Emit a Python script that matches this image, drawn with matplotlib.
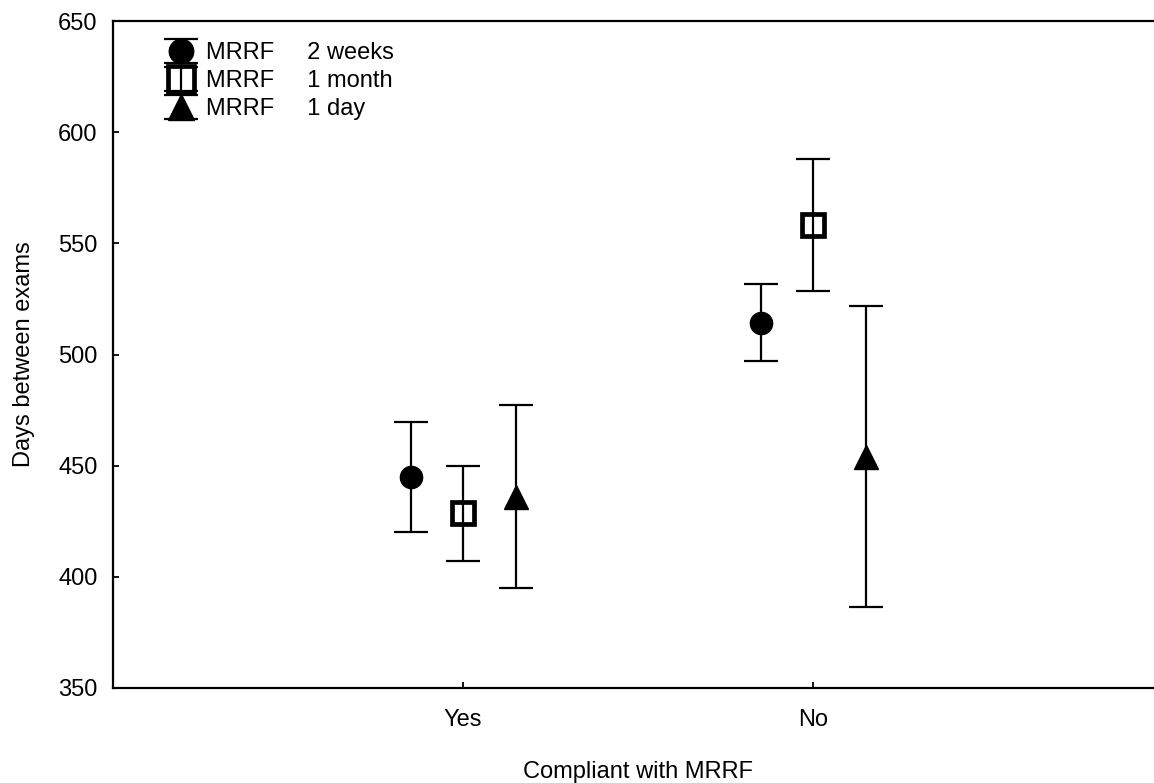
import numpy as np
import matplotlib.pyplot as plt

plt.rcParams['font.family'] = ['Liberation Sans', 'DejaVu Sans']

groups = ['Yes', 'No']
series = ['2 weeks', '1 month', '1 day']
means = {
    '2 weeks': [445.0, 514.3],
    '1 month': [428.5, 558.2],
    '1 day': [436.0, 454.0],
}
errors = {
    '2 weeks': [24.7, 17.2],
    '1 month': [21.4, 29.7],
    '1 day': [41.2, 67.6],
}
offsets = {'2 weeks': -0.15, '1 month': 0.0, '1 day': 0.15}
styles = {
    '2 weeks': dict(marker='o', ms=16, mfc='black', mec='black'),
    '1 month': dict(marker='s', ms=16.5, mfc='none', mec='black', mew=3.4),
    '1 day': dict(marker='^', ms=17, mfc='black', mec='black'),
}

fig = plt.figure(figsize=(11.54, 7.83), dpi=100)
ax = fig.add_axes([113 / 1154, 95 / 783, 1050 / 1154, 667 / 783])

x = np.arange(1, len(groups) + 1)
for s in series:
    eb = ax.errorbar(x + offsets[s], means[s], yerr=errors[s], ls='none',
                     color='black', elinewidth=1.6, capsize=12.5, capthick=1.6,
                     label='MRRF     ' + s, **styles[s])
    # keep the caps thin even for the thick-edged square marker
    for cap in eb[1]:
        cap.set_markeredgewidth(1.6)

ax.set_xlim(0, 3)
ax.set_ylim(350, 650)
ax.set_xticks(x)
ax.set_xticklabels(groups)
ax.set_yticks(np.arange(350, 651, 50))
ax.tick_params(direction='in', length=4, width=1.3, labelsize=17, pad=11)
ax.tick_params(axis='x', pad=15)
for sp in ax.spines.values():
    sp.set_linewidth(1.6)

ax.set_xlabel('Compliant with MRRF', fontsize=17, labelpad=22)
ax.set_ylabel('Days between exams', fontsize=17, labelpad=17)

ax.legend(loc='upper left', bbox_to_anchor=(0.0223, 1.0), frameon=False,
          fontsize=17, handlelength=2.0, handletextpad=0.05, markerscale=1.1,
          labelspacing=0.25, borderaxespad=0.5)

fig.savefig('out.png', dpi=100)
